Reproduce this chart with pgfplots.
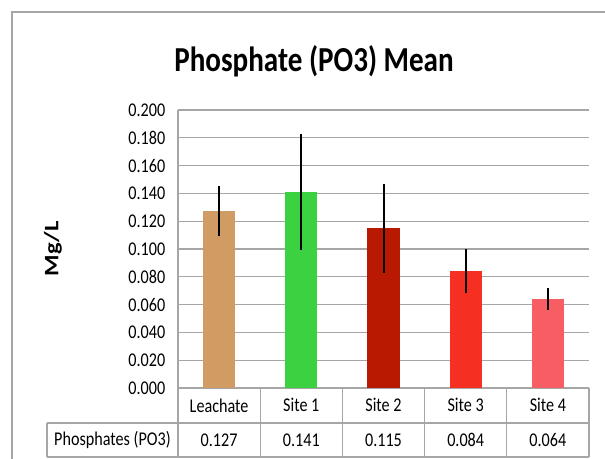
\documentclass[border=0pt]{standalone}
\usepackage{pgfplots}
\pgfplotsset{compat=1.18}
\usepackage{fontspec}
\setmainfont{Carlito}[FakeStretch=0.83]
\newfontfamily\ylabfont{Carlito}[FakeStretch=1.2]

\definecolor{leach}{RGB}{209,156,99}
\definecolor{site1}{RGB}{59,209,65}
\definecolor{site2}{RGB}{185,25,0}
\definecolor{site3}{RGB}{245,47,34}
\definecolor{site4}{RGB}{246,94,100}
\definecolor{gridgray}{RGB}{166,166,166}

\begin{document}
% 1 unit = 1 px of the reference (0.75pt); origin = lower left of plot area
\begin{tikzpicture}[x=0.75pt,y=0.75pt]
  \useasboundingbox (-178,-70) rectangle (427,388);
  % outer chart frame
  \draw[gray!70, line width=1.5pt] (-166,-80) -- (-166,376) -- (440,376);
  \begin{axis}[
      at={(0,0)}, anchor=south west,
      width=308.25pt, height=208.5pt, scale only axis,
      xmin=-0.5, xmax=4.5, ymin=0, ymax=0.2,
      ytick={0,0.02,...,0.2},
      xtick={0,1,2,3,4},
      xticklabels={Leachate, Site 1, Site 2, Site 3, Site 4},
      ymajorgrids, grid style={gridgray, line width=0.9pt},
      axis x line*=bottom, axis y line*=left,
      axis line style={gridgray, line width=0.9pt, -},
      major tick length=0pt,
      font=\fontsize{14.6}{16}\selectfont,
      /pgf/number format/assume math mode=true,
      y tick label style={xshift=-6pt, /pgf/number format/.cd, fixed, fixed zerofill, precision=3},
      x tick label style={anchor=center, yshift=-13pt},
      clip=false,
      ybar, bar width=24pt,
      error bars/y dir=both, error bars/y explicit,
      error bars/error mark=none,
      error bars/error bar style={black, line width=1.5pt},
    ]
    \addplot[bar shift=0pt, fill=leach, draw=none] coordinates {(0,0.127) +- (0,0.018)};
    \addplot[bar shift=0pt, fill=site1, draw=none] coordinates {(1,0.141) +- (0,0.042)};
    \addplot[bar shift=0pt, fill=site2, draw=none] coordinates {(2,0.115) +- (0,0.032)};
    \addplot[bar shift=0pt, fill=site3, draw=none] coordinates {(3,0.084) +- (0,0.016)};
    \addplot[bar shift=0pt, fill=site4, draw=none] coordinates {(4,0.064) +- (0,0.008)};
    % data table row
    \addplot[bar shift=0pt, draw=none, fill=none, error bars/y dir=none,
      nodes near coords, point meta=explicit symbolic,
      every node near coord/.style={anchor=center, yshift=-39pt, black}]
      coordinates {(0,0)[0.127] (1,0)[0.141] (2,0)[0.115] (3,0)[0.084] (4,0)[0.064]};
  \end{axis}
  % data table grid
  \begin{scope}[gridgray, line width=0.9pt]
    \draw (-131,-35) -- (411,-35);
    \draw (-131,-69) -- (411,-69);
    \draw (-131,-35) -- (-131,-69);
    \foreach \xx in {0,82.2,164.4,246.6,328.8,411}
      \draw (\xx,0) -- (\xx,-69);
  \end{scope}
  \node[font=\fontsize{14.6}{16}\selectfont] at (-65.5,-52) {Phosphates (PO3)};
  \node[font=\fontsize{26.3}{30}\selectfont\bfseries] at (136,327) {Phosphate (PO3) Mean};
  \node[rotate=90, font=\ylabfont\fontsize{15.4}{17}\selectfont\bfseries] at (-125,139) {Mg/L};
\end{tikzpicture}
\end{document}
